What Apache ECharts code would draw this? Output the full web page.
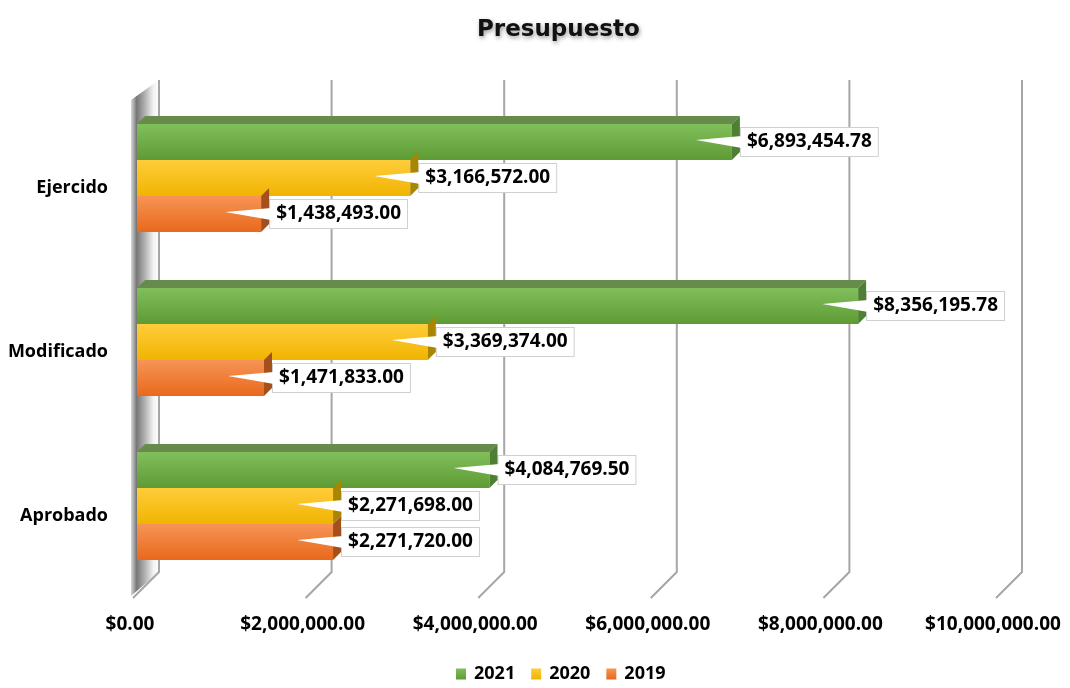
<!DOCTYPE html>
<html>
<head>
<meta charset="utf-8">
<script src="https://cdn.jsdelivr.net/npm/echarts@6/dist/echarts.min.js"></script>
<style>
  html, body { margin: 0; padding: 0; background: #fff; }
</style>
</head>
<body>
<div id="main" style="width: 1070px;height: 688px"></div>
<script>
var categories = ['Aprobado', 'Modificado', 'Ejercido'];
var years = ['2021', '2020', '2019'];
var v2021 = [4084769.50, 8356195.78, 6893454.78];
var v2020 = [2271698.00, 3369374.00, 3166572.00];
var v2019 = [2271720.00, 1471833.00, 1438493.00];
var xTicks = [0, 2000000, 4000000, 6000000, 8000000, 10000000];

var chartDom = document.getElementById('main');
var myChart = echarts.init(chartDom);
var font = 'Open Sans';

function money(v) {
  var s = v.toFixed(2);
  var parts = s.split('.');
  parts[0] = parts[0].replace(/\B(?=(\d{3})+(?!\d))/g, ',');
  return '$' + parts.join('.');
}

function grad(top, bottom) {
  return new echarts.graphic.LinearGradient(0, 0, 0, 1, [
    { offset: 0, color: top },
    { offset: 1, color: bottom }
  ]);
}

var barW = 36;
var depth = 8;
var labelGap = 9;
var sideColors = ['#4f7f33', '#a98600', '#a4501c'];
var topColors = ['#668b4a', '#c9a000', '#c46324'];

var labelOption = {
  show: true,
  position: 'right',
  distance: labelGap,
  formatter: function (p) { return money(p.value); },
  fontFamily: font,
  fontWeight: 'bold',
  fontSize: 19,
  color: '#000',
  backgroundColor: '#fff',
  borderColor: '#d0d0d0',
  borderWidth: 1,
  padding: [5, 6, 4, 6]
};

var faceData = categories.map(function (c, i) {
  return [i, v2021[i], v2020[i], v2019[i]];
});
var gridData = xTicks.map(function (t) { return [t, 0]; });

var option = {
  title: {
    text: 'Presupuesto',
    left: 472,
    top: 14,
    textStyle: {
      fontFamily: 'DejaVu Sans',
      fontWeight: 'bold',
      fontSize: 23,
      color: '#111',
      textShadowColor: 'rgba(0,0,0,0.4)',
      textShadowBlur: 4,
      textShadowOffsetX: 1,
      textShadowOffsetY: 2
    }
  },
  legend: {
    data: years,
    bottom: 0,
    left: 451,
    icon: 'rect',
    itemWidth: 10,
    itemHeight: 11,
    itemGap: 16,
    textStyle: { fontFamily: font, fontWeight: 'bold', fontSize: 18, color: '#000', padding: [0, 0, 0, 3] }
  },
  grid: {
    left: 137,
    right: 70,
    top: 96,
    bottom: 100,
    containLabel: false
  },
  xAxis: {
    type: 'value',
    min: 0,
    max: 10000000,
    interval: 2000000,
    axisLine: { show: false },
    axisTick: { show: false },
    splitLine: { show: false },
    axisLabel: {
      margin: 27,
      padding: [0, 14, 0, 0],
      fontFamily: font,
      fontWeight: 'bold',
      fontSize: 19,
      color: '#000',
      formatter: function (v) { return money(v); }
    }
  },
  yAxis: {
    type: 'category',
    data: categories,
    axisLine: { show: false },
    axisTick: { show: false },
    axisLabel: {
      margin: 29,
      formatter: function (v) { return '{c|' + v + '}'; },
      rich: {
        c: {
          padding: [20, 0, 0, 0],
          fontFamily: font,
          fontWeight: 'bold',
          fontSize: 18,
          color: '#000'
        }
      }
    }
  },
  series: [
    {
      type: 'custom',
      z: 1,
      silent: true,
      renderItem: function (params, api) {
        var cs = params.coordSys;
        var x = api.coord([api.value(0), 0])[0];
        var top = cs.y - 16;
        var bot = cs.y + cs.height - 16;
        var children = [];
        if (api.value(0) === 0) {
          children.push({
            type: 'polygon',
            shape: { points: [[x - 6, top + 20], [x + 22, top], [x + 22, bot], [x - 6, bot + 24]] },
            style: {
              fill: new echarts.graphic.LinearGradient(0, 0, 1, 0, [
                { offset: 0, color: '#d8d8d8' },
                { offset: 0.2, color: '#777777' },
                { offset: 0.45, color: '#a8a8a8' },
                { offset: 0.8, color: '#f2f2f2' },
                { offset: 1, color: '#ffffff' }
              ])
            }
          });
        }
        children.push({
          type: 'polyline',
          shape: { points: [[x + 22, top], [x + 22, bot], [x - 4, bot + 26]] },
          style: { stroke: '#a6a6a6', lineWidth: 2, fill: null }
        });
        return { type: 'group', children: children };
      },
      encode: { x: 0, y: 1 },
      data: gridData
    },
    {
      name: '2021',
      type: 'bar',
      barWidth: barW,
      barGap: 0,
      z: 3,
      itemStyle: { color: grad('#80bf5a', '#5e9b35') },
      label: labelOption,
      data: v2021
    },
    {
      name: '2020',
      type: 'bar',
      barWidth: barW,
      barGap: 0,
      z: 3,
      itemStyle: { color: grad('#ffcd3a', '#f0b400') },
      label: labelOption,
      data: v2020
    },
    {
      name: '2019',
      type: 'bar',
      barWidth: barW,
      barGap: 0,
      z: 3,
      itemStyle: { color: grad('#f79455', '#e8691c') },
      label: labelOption,
      data: v2019
    },
    {
      type: 'custom',
      z: 4,
      silent: true,
      renderItem: function (params, api) {
        var center = api.coord([0, api.value(0)]);
        var x0 = center[0];
        var cy = center[1];
        var children = [];
        for (var k = 0; k < 3; k++) {
          var xe = api.coord([api.value(k + 1), api.value(0)])[0];
          var yTop = cy - barW * 1.5 + k * barW;
          var mid = yTop + barW / 2;
          if (k === 0) {
            children.push({
              type: 'polygon',
              shape: { points: [[x0, yTop], [x0 + depth, yTop - depth], [xe + depth, yTop - depth], [xe, yTop]] },
              style: { fill: topColors[k] }
            });
          }
          children.push({
            type: 'polygon',
            shape: { points: [[xe, yTop], [xe + depth, yTop - depth], [xe + depth, yTop + barW - depth], [xe, yTop + barW]] },
            style: { fill: sideColors[k] }
          });
          children.push({
            type: 'polygon',
            shape: { points: [[xe + labelGap + 1, mid - 6], [xe + labelGap + 1, mid + 6], [xe - 36, mid - 2]] },
            style: { fill: '#ffffff' }
          });
        }
        return { type: 'group', children: children };
      },
      encode: { x: [1, 2, 3], y: 0 },
      data: faceData
    }
  ]
};

option && myChart.setOption(option);
</script>
</body>
</html>
